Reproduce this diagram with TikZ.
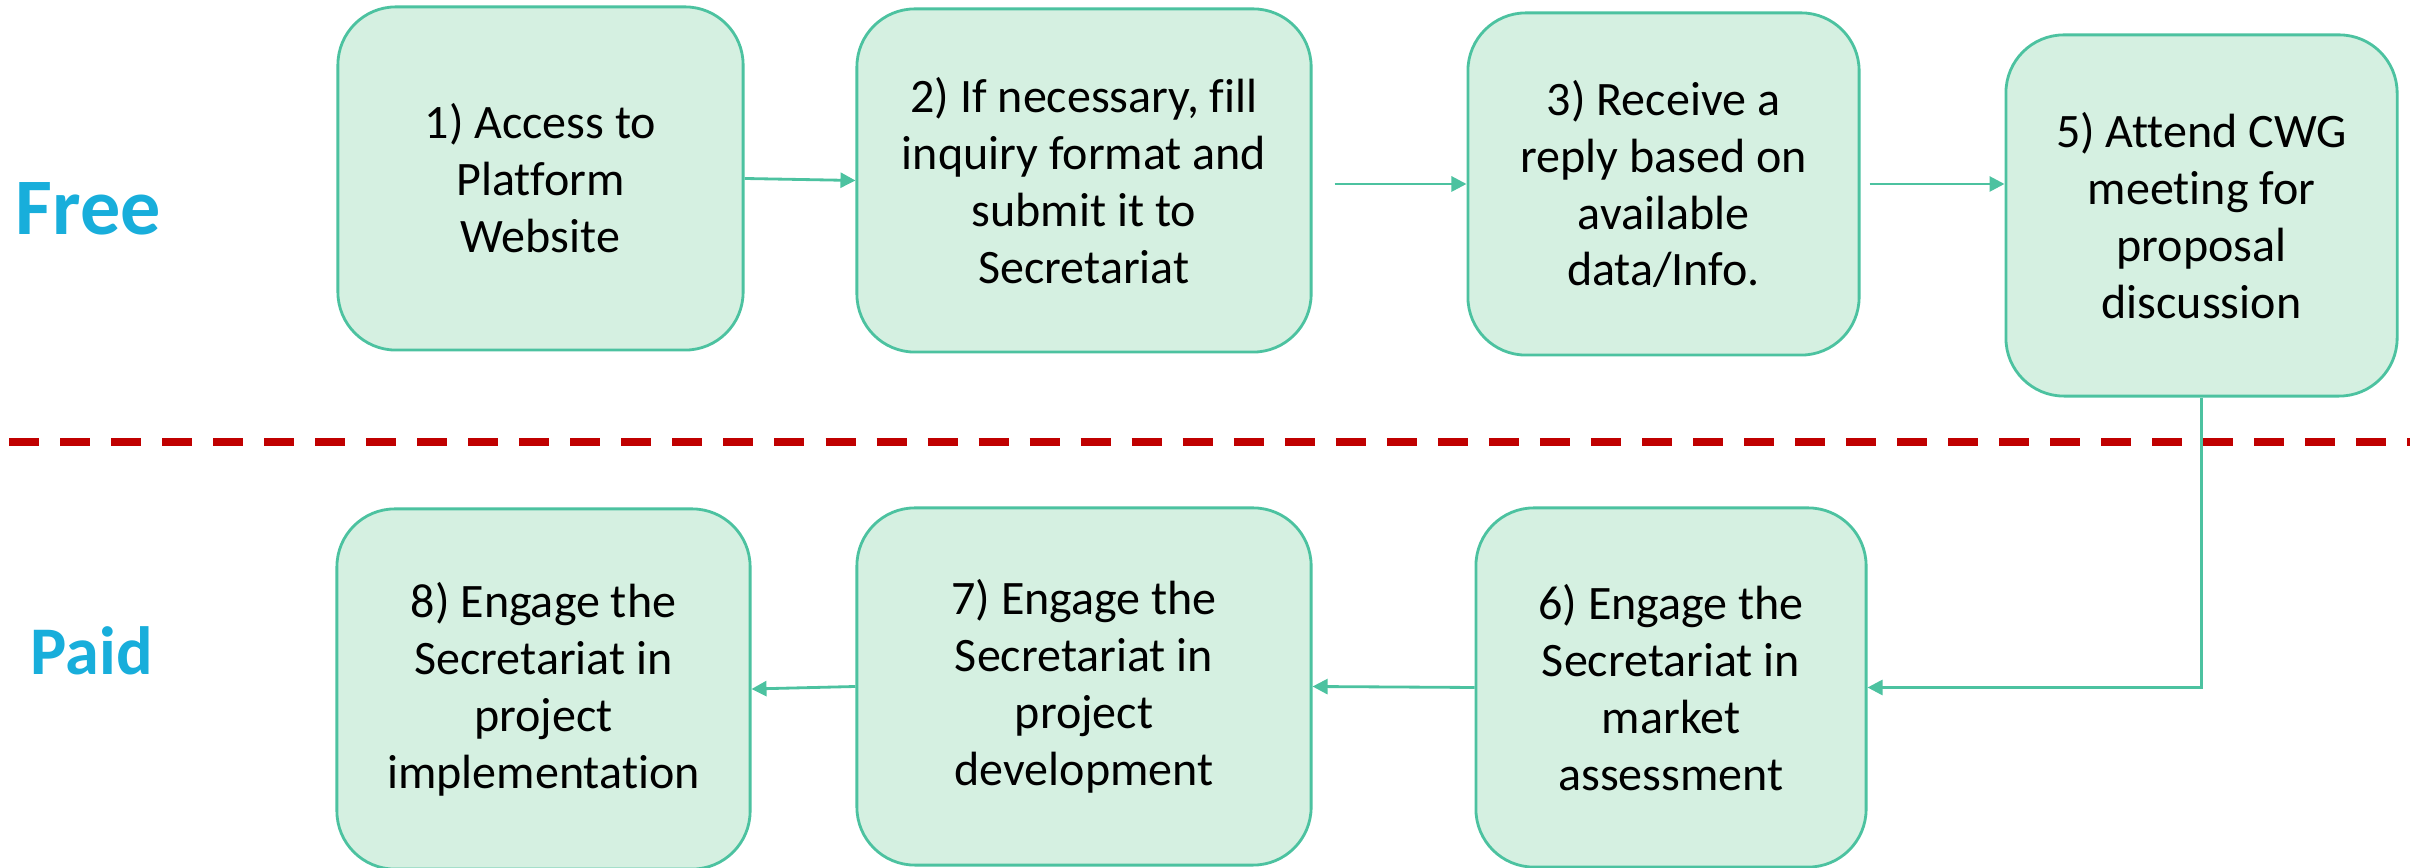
\documentclass[tikz,border=0pt]{standalone}
\usepackage{fontspec}
\setmainfont{Carlito}[Ligatures={NoCommon}]
\usetikzlibrary{arrows.meta,calc}
\definecolor{boxfill}{HTML}{D5F0E1}
\definecolor{boxline}{HTML}{4CC2A0}
\definecolor{lblblue}{HTML}{18AEDB}
\definecolor{dashred}{HTML}{C00000}
\begin{document}
\begin{tikzpicture}[x=0.01cm,y=-0.01cm,
  stepbox/.style={draw=boxline, fill=boxfill, line width=0.8pt, rounded corners=0.58cm,
    align=center, inner sep=0pt, font=\fontsize{13.66pt}{16.2pt}\selectfont},
  conn/.style={draw=boxline, line width=0.8pt, -{Triangle[length=0.15cm,width=0.15cm]}},
  lbl/.style={text=lblblue, anchor=base west, inner sep=0pt},
  divider/.style={draw=dashred, line width=2.3pt, dash pattern=on 0.3cm off 0.21cm}]
\useasboundingbox (0,0) rectangle (2410,868);

% divider line
\coordinate (dl) at (9,442);
\coordinate (dr) at (2410,442);
\draw[divider] (dl) -- (dr);

% labels
\node[lbl, font=\fontsize{22.8pt}{27pt}\selectfont\bfseries] (free) at (15,235) {Free};
\node[lbl, font=\fontsize{19.4pt}{23pt}\selectfont\bfseries] (paid) at (30,675) {Paid};

% boxes
\node[stepbox, minimum width=4.05cm, minimum height=3.43cm] (b1) at (540.5,178.5)
  {1) Access to\\Platform\\Website};
\node[stepbox, minimum width=4.54cm, minimum height=3.43cm] (b2) at (1084,180.5)
  {2) If necessary, fill\\inquiry format and\\submit it to\\Secretariat};
\node[stepbox, minimum width=3.91cm, minimum height=3.42cm] (b3) at (1663.5,184)
  {3) Receive a\\reply based on\\available\\data/Info.};
\node[stepbox, minimum width=3.91cm, minimum height=3.61cm] (b5) at (2201.5,215.5)
  {5) Attend CWG\\meeting for\\proposal\\discussion};
\node[stepbox, minimum width=3.90cm, minimum height=3.59cm] (b6) at (1671,687.5)
  {6) Engage the\\Secretariat in\\market\\assessment};
\node[stepbox, minimum width=4.54cm, minimum height=3.57cm] (b7) at (1084,686.5)
  {7) Engage the\\Secretariat in\\project\\development};
\node[stepbox, minimum width=4.13cm, minimum height=3.60cm] (b8) at (543.5,689)
  {8) Engage the\\Secretariat in\\project\\implementation};

% connectors
\draw[conn] (b1.east) -- (b2.west);
\draw[conn, shorten <=0.22cm] (b2.east |- b3.west) -- (b3.west);
\draw[conn, shorten <=0.09cm] (b3.east) -- (b3.east -| b5.west);
\draw[conn] (b5.south) |- (b6.east);
\draw[conn] (b6.west) -- (b7.east);
\draw[conn] (b7.west) -- (b8.east);
\end{tikzpicture}
\end{document}
